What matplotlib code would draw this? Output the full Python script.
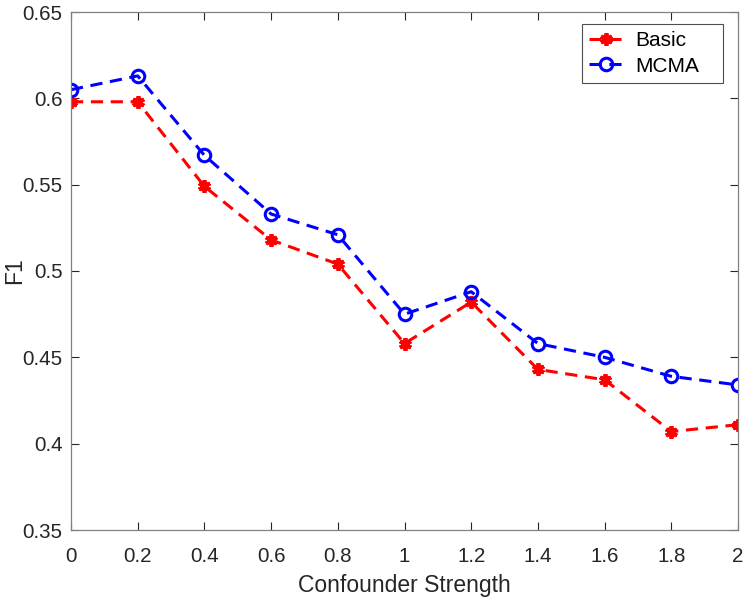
import matplotlib
matplotlib.use("Agg")
import matplotlib.pyplot as plt

x = [0, 0.2, 0.4, 0.6, 0.8, 1.0, 1.2, 1.4, 1.6, 1.8, 2.0]
basic = [0.598, 0.598, 0.549, 0.518, 0.504, 0.458, 0.482, 0.443, 0.437, 0.407, 0.411]
mcma = [0.605, 0.613, 0.567, 0.533, 0.521, 0.475, 0.488, 0.458, 0.450, 0.439, 0.434]
xticks = [0, 0.2, 0.4, 0.6, 0.8, 1.0, 1.2, 1.4, 1.6, 1.8, 2.0]
xticklabels = ["0", "0.2", "0.4", "0.6", "0.8", "1", "1.2", "1.4", "1.6", "1.8", "2"]
yticks = [0.35, 0.4, 0.45, 0.5, 0.55, 0.6, 0.65]
yticklabels = ["0.35", "0.4", "0.45", "0.5", "0.55", "0.6", "0.65"]

plt.rcParams['font.family'] = ['Liberation Sans', 'DejaVu Sans']
fig = plt.figure(figsize=(7.47, 6.01), dpi=100)
ax = fig.add_axes([71/747, 1 - 530/601, (738-71)/747, (530-12)/601])

ax.plot(x, basic, color='red', linestyle='--', dashes=(4, 2.5), lw=2.2,
        marker=(6, 2, 0), markersize=9, markeredgewidth=2.8, label='Basic')
ax.plot(x, mcma, color='blue', linestyle='--', dashes=(4, 2.5), lw=2.2,
        marker='o', markersize=9, markerfacecolor='none', markeredgewidth=2.2, label='MCMA')

ax.set_xlim(0, 2)
ax.set_ylim(0.35, 0.65)
ax.set_xticks(xticks)
ax.set_xticklabels(xticklabels)
ax.set_yticks(yticks)
ax.set_yticklabels(yticklabels)
gc = (0.15, 0.15, 0.15)
ax.tick_params(direction='in', length=6, width=0.8, top=True, right=True,
               labelsize=14.8, colors=gc)
ax.tick_params(axis='x', pad=12)
ax.tick_params(axis='y', pad=6)
for s in ax.spines.values():
    s.set_color((0.5, 0.5, 0.5))
    s.set_linewidth(0.9)
ax.set_xlabel('Confounder Strength', fontsize=16.5, color=gc, labelpad=6)
ax.set_ylabel('F1', fontsize=16.5, color=gc)
ax.yaxis.set_label_coords((26 - 71) / 667, 0.5)

leg = ax.legend(loc='upper left', bbox_to_anchor=((582-71)/667, (530-24)/518, 141/667, 0.0),
                mode='expand', fontsize=15,
                handlelength=1.6, handletextpad=0.6, borderpad=0.35,
                labelspacing=0.3, fancybox=False, framealpha=1, borderaxespad=0)
leg.get_frame().set_edgecolor((0.3, 0.3, 0.3))
leg.get_frame().set_linewidth(0.8)

fig.savefig('out.png', dpi=100)
